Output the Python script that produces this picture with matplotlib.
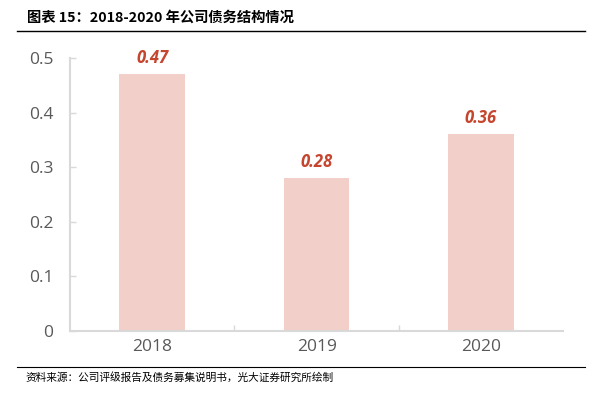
import matplotlib
matplotlib.use("Agg")
import matplotlib.pyplot as plt

plt.rcParams['font.family'] = ['Noto Sans CJK SC', 'DejaVu Sans']

years = ['2018', '2019', '2020']
values = [0.47, 0.28, 0.36]
yticks = [0, 0.1, 0.2, 0.3, 0.4, 0.5]
ytick_labels = ['0', '0.1', '0.2', '0.3', '0.4', '0.5']

title = '图表 15：2018-2020 年公司债务结构情况'
source = '资料来源：公司评级报告及债务募集说明书，光大证券研究所绘制'

bar_color = '#F2CFC9'
label_color = '#C5452E'
spine_color = '#D9D9D9'
tick_color = '#595959'

fig = plt.figure(figsize=(6.03, 3.97), dpi=100)
ax = fig.add_axes([0.116, 0.166, 0.818, 0.688])

x = range(len(years))
ax.bar(x, values, width=0.4, color=bar_color, zorder=2)

for xi, v in zip(x, values):
    ax.annotate(f'{v:.2f}', (xi, v), xytext=(0, 5), textcoords='offset points',
                ha='center', va='bottom', color=label_color, fontsize=12,
                fontweight='bold', style='italic', family=['Open Sans', 'DejaVu Sans'])

ax.set_xlim(-0.5, 2.5)
ax.set_ylim(0, 0.5)
ax.set_yticks(yticks)
ax.set_yticklabels(ytick_labels, family=['Open Sans', 'DejaVu Sans'])
ax.set_xticks(list(x))
ax.set_xticklabels(years, family=['Open Sans', 'DejaVu Sans'])
ax.set_xticks([0.5, 1.5], minor=True)

for s in ['top', 'right']:
    ax.spines[s].set_visible(False)
for s in ['left', 'bottom']:
    ax.spines[s].set_color(spine_color)
    ax.spines[s].set_linewidth(1.5)

ax.tick_params(axis='y', direction='in', length=4, width=1, color=spine_color,
               labelcolor=tick_color, labelsize=12.5, pad=12)
ax.tick_params(axis='x', which='major', length=0, labelcolor=tick_color,
               labelsize=12.5, pad=6)
ax.tick_params(axis='x', which='minor', direction='in', length=4, width=1,
               color=spine_color)

fig.text(0.045, 0.955, title, fontsize=10.3, fontweight='bold', va='center', ha='left')
fig.add_artist(plt.Line2D([0.028, 0.97], [0.922, 0.922], color='black', linewidth=1))
fig.add_artist(plt.Line2D([0.028, 0.97], [0.076, 0.076], color='black', linewidth=0.8))
fig.text(0.042, 0.05, source, fontsize=7.7, va='center', ha='left')

fig.savefig('out.png', dpi=100)
